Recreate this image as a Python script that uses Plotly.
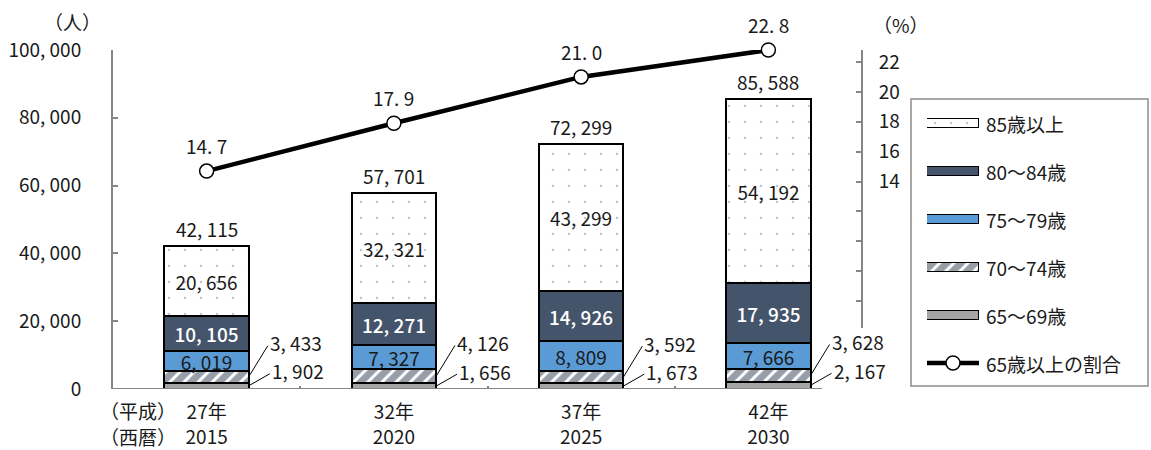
import plotly.graph_objects as go

# ---------------- data ----------------
years_heisei = ["27年", "32年", "37年", "42年"]
years_ad = ["2015", "2020", "2025", "2030"]
age_65_69 = [1902, 1656, 1673, 2167]
age_70_74 = [3433, 4126, 3592, 3628]
age_75_79 = [6019, 7327, 8809, 7666]
age_80_84 = [10105, 12271, 14926, 17935]
age_85_up = [20656, 32321, 43299, 54192]
ratio_65_up = [14.7, 17.9, 21.0, 22.8]

series_names = ["65～69歳", "70～74歳", "75～79歳", "80～84歳", "85歳以上"]
line_name = "65歳以上の割合"

left_ticks = [0, 20000, 40000, 60000, 80000, 100000]
right_ticks = [6, 8, 10, 12, 14, 16, 18, 20, 22]
right_ticklabels = ["", "", "", "", "14", "16", "18", "20", "22"]

# ---------------- style / layout constants ----------------
W, H = 1151, 450
ML, MR, MT, MB = 113, 0, 50, 61
PW = W - ML - MR
PH = H - MT - MB
FONT = "Noto Sans CJK JP, Noto Sans, sans-serif"
FS = 19
TXT = "#1a1a1a"
AX = "#868686"
NAVY = "#44546A"
BLUE = "#5B9BD5"
GRAY = "#A5A5A5"
BAR_W = 0.45


def fx(px):
    return (px - ML) / PW


def fy(py):
    return (H - MB - py) / PH


def fmt(v):
    return f"{v:,}".replace(",", ", ")


def fmt1(v):
    return f"{v:.1f}".replace(".", ". ")


x = list(range(len(years_ad)))
totals = [a + b + c + d + e for a, b, c, d, e in zip(age_65_69, age_70_74, age_75_79, age_80_84, age_85_up)]

markers = [
    dict(color=GRAY, line=dict(color="black", width=2)),
    dict(color="white", pattern=dict(shape="/", fgcolor="#2f3d52", bgcolor="white", size=10, solidity=0.7),
         line=dict(color="black", width=2)),
    dict(color=BLUE, line=dict(color="black", width=2)),
    dict(color=NAVY, line=dict(color="black", width=2)),
    dict(color="white", pattern=dict(shape=".", fgcolor="#7d8ca3", bgcolor="white", size=16, solidity=0.02),
         line=dict(color="black", width=2)),
]
values = [age_65_69, age_70_74, age_75_79, age_80_84, age_85_up]
text_show = [False, False, True, True, True]
text_font = [None, None, dict(color=TXT, size=FS, family=FONT),
             dict(color="white", size=FS, family=FONT, weight=500),
             dict(color=TXT, size=FS, family=FONT)]

fig = go.Figure()

for name, vals, mk, show, tf in zip(series_names, values, markers, text_show, text_font):
    fig.add_trace(go.Bar(
        x=x, y=vals, name=name, width=BAR_W, marker=mk,
        text=[fmt(v) for v in vals] if show else None,
        textposition="inside" if show else "none",
        insidetextanchor="middle", textangle=0, constraintext="none",
        insidetextfont=tf,
        showlegend=False, xaxis="x", yaxis="y",
    ))

fig.add_trace(go.Scatter(
    x=x, y=ratio_65_up, name=line_name, mode="lines+markers",
    line=dict(color="black", width=4.5),
    marker=dict(symbol="circle", size=14, color="white", line=dict(color="black", width=1.5)),
    cliponaxis=False, showlegend=False, xaxis="x", yaxis="y2",
))

annotations = []
shapes = []

# totals above bars
for xi, t in zip(x, totals):
    annotations.append(dict(x=xi, y=t, xref="x", yref="y", text=fmt(t), showarrow=False,
                            xanchor="center", yanchor="bottom", yshift=2, font=dict(size=FS, color=TXT)))
# ratio labels
for xi, r in zip(x, ratio_65_up):
    annotations.append(dict(x=xi, y=r, xref="x", yref="y2", text=fmt1(r), showarrow=False,
                            xanchor="center", yanchor="bottom", yshift=10, font=dict(size=FS, color=TXT)))

# small segments: outside labels with leader lines
for xi, a, b in zip(x, age_65_69, age_70_74):
    edge = xi + BAR_W / 2
    for mid, val, dx, dy in ((a + b / 2, b, 19, 34), (a / 2, a, 21, 15)):
        shapes.append(dict(type="line", xref="x", yref="y", xsizemode="pixel", ysizemode="pixel",
                           xanchor=edge, yanchor=mid, x0=0, y0=0, x1=dx, y1=dy - 3,
                           line=dict(color="black", width=1)))
        annotations.append(dict(x=edge, y=mid, xref="x", yref="y", text=fmt(val), showarrow=False,
                                xanchor="left", yanchor="middle", xshift=dx, yshift=dy,
                                font=dict(size=FS, color=TXT)))

# x axis line (ends before right axis)
shapes.append(dict(type="line", xref="x domain", yref="y", x0=0, x1=(822 - ML) / (862 - ML), y0=0, y1=0,
                   line=dict(color=AX, width=2), layer="above"))

# axis unit labels
annotations += [
    dict(x=fx(72), y=fy(22), xref="paper", yref="paper", text="（人）", showarrow=False,
         xanchor="center", yanchor="middle", font=dict(size=FS, color=TXT)),
    dict(x=fx(901), y=fy(25), xref="paper", yref="paper", text="（%）", showarrow=False,
         xanchor="center", yanchor="middle", font=dict(size=FS, color=TXT)),
    dict(x=fx(178), y=fy(410), xref="paper", yref="paper", text="（平成）", showarrow=False,
         xanchor="right", yanchor="middle", font=dict(size=FS, color=TXT)),
    dict(x=fx(178), y=fy(436), xref="paper", yref="paper", text="（西暦）", showarrow=False,
         xanchor="right", yanchor="middle", font=dict(size=FS, color=TXT)),
]

# ---------------- custom legend ----------------
LEG_X0, LEG_X1, LEG_Y0, LEG_Y1 = 911, 1148, 99, 386
SW_X0, SW_X1 = 927, 979
ROW0, ROW_STEP = 123, 48
shapes.append(dict(type="rect", xref="paper", yref="paper", x0=fx(LEG_X0), x1=fx(LEG_X1),
                   y0=fy(LEG_Y1), y1=fy(LEG_Y0), line=dict(color="#8c8c8c", width=1.5),
                   fillcolor="white", layer="below"))

leg_order = [4, 3, 2, 1, 0]
for row, k in enumerate(leg_order):
    ry = ROW0 + row * ROW_STEP
    mk = dict(markers[k])
    mk["line"] = dict(color="black", width=1.5)
    fig.add_trace(go.Bar(x=[1], y=[ry], base=0, orientation="h", width=9, marker=mk,
                         showlegend=False, hoverinfo="skip", xaxis="x3", yaxis="y3"))
    annotations.append(dict(x=fx(984), y=fy(ry), xref="paper", yref="paper", text=series_names[k],
                            showarrow=False, xanchor="left", yanchor="middle",
                            font=dict(size=FS, color=TXT)))
ry = ROW0 + len(leg_order) * ROW_STEP
fig.add_trace(go.Scatter(x=[0, 1], y=[ry, ry], mode="lines", line=dict(color="black", width=4.5),
                         showlegend=False, hoverinfo="skip", xaxis="x3", yaxis="y3"))
fig.add_trace(go.Scatter(x=[0.5], y=[ry], mode="markers",
                         marker=dict(size=14, color="white", line=dict(color="black", width=1.5)),
                         showlegend=False, hoverinfo="skip", xaxis="x3", yaxis="y3", cliponaxis=False))
annotations.append(dict(x=fx(984), y=fy(ry), xref="paper", yref="paper", text=line_name,
                        showarrow=False, xanchor="left", yanchor="middle", font=dict(size=FS, color=TXT)))

fig.update_layout(
    width=W, height=H, autosize=False,
    margin=dict(l=ML, r=MR, t=MT, b=MB, pad=0),
    paper_bgcolor="white", plot_bgcolor="rgba(0,0,0,0)",
    font=dict(family=FONT, size=FS, color=TXT),
    barmode="stack", bargap=0,
    showlegend=False,
    xaxis=dict(domain=[0, fx(862)], range=[-0.5, 3.5], anchor="y",
               tickmode="array", tickvals=x,
               ticktext=[f"{h}<br>{a}" for h, a in zip(years_heisei, years_ad)],
               ticks="", showline=False, showgrid=False, zeroline=False,
               ticklabelstandoff=10,
               minor=dict(tickmode="array", tickvals=[0.5, 1.5, 2.5], ticks="inside", ticklen=3,
                          tickcolor=AX, tickwidth=1.5, showgrid=False)),
    yaxis=dict(domain=[0, 1], range=[0, 100000], anchor="x",
               tickmode="array", tickvals=left_ticks, ticktext=[fmt(v) for v in left_ticks],
               ticks="inside", ticklen=5, tickwidth=2, tickcolor=AX,
               showline=True, linecolor=AX, linewidth=2,
               showgrid=False, zeroline=False, ticklabelstandoff=26),
    yaxis2=dict(domain=[fy(328), 1], range=[4.2, 22.8], anchor="free", position=fx(862), side="right",
                tickmode="array", tickvals=right_ticks, ticktext=right_ticklabels,
                ticks="inside", ticklen=5, tickwidth=2, tickcolor=AX,
                showline=True, linecolor=AX, linewidth=2,
                showgrid=False, zeroline=False, ticklabelstandoff=12),
    xaxis3=dict(domain=[fx(SW_X0), fx(SW_X1)], range=[0, 1], anchor="y3", visible=False, fixedrange=True),
    yaxis3=dict(domain=[fy(LEG_Y1), fy(LEG_Y0)], range=[LEG_Y1, LEG_Y0], anchor="x3", visible=False,
                fixedrange=True),
    annotations=annotations,
    shapes=shapes,
)

fig.write_html("out.html", config={"displayModeBar": False},
               post_script="document.body.style.margin='0';document.body.style.overflow='hidden';")
